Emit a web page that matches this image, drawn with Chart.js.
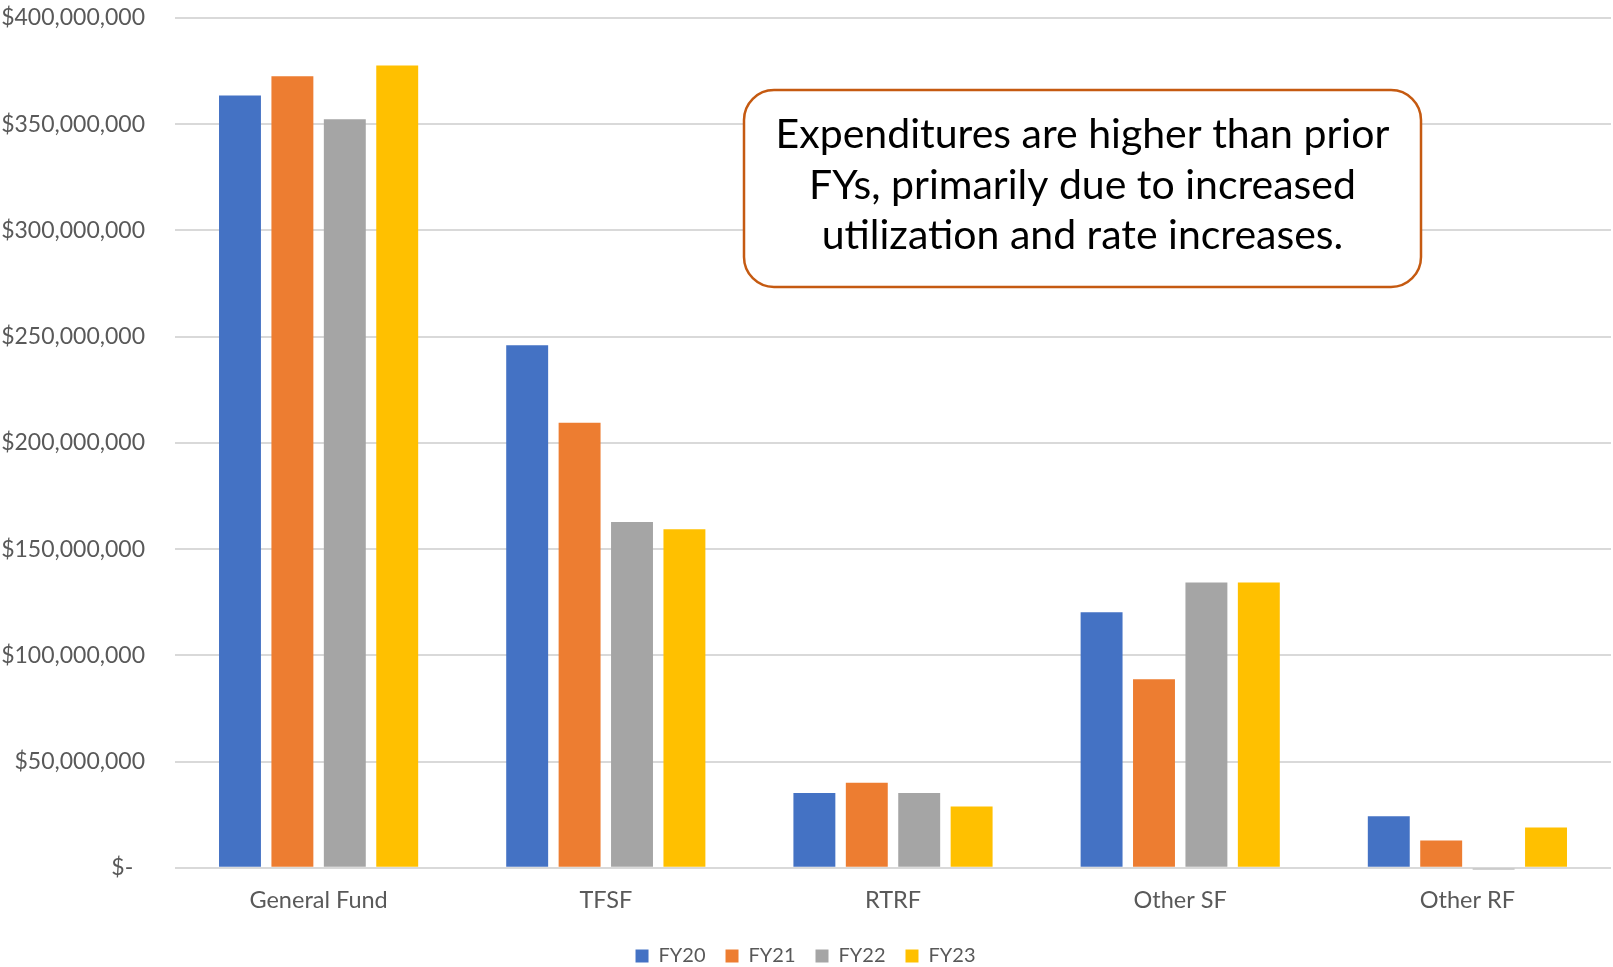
<!DOCTYPE html>
<html>
<head>
<meta charset="utf-8">
<title>Expenditures by Fund Source</title>
<script src="https://cdn.jsdelivr.net/npm/chart.js@4.4.1/dist/chart.umd.min.js"></script>
<style>
  html, body { margin: 0; padding: 0; background: #ffffff; }
  #wrap { width: 1613px; height: 967px; position: relative; }
</style>
</head>
<body>
<div id="wrap"><canvas id="chart" width="1613" height="967"></canvas></div>
<script>
// Fund sources along the x axis
const categories = ['General Fund', 'TFSF', 'RTRF', 'Other SF', 'Other RF'];

// Expenditures per fiscal year, in dollars
const fy20 = [363500000, 246000000, 35200000, 120300000, 24300000];
const fy21 = [372600000, 209500000, 40000000, 88800000, 12800000];
const fy22 = [352400000, 162800000, 35200000, 134300000, -800000];
const fy23 = [377700000, 159400000, 28900000, 134300000, 19000000];

const seriesNames = ['FY20', 'FY21', 'FY22', 'FY23'];
const seriesColors = ['#4472C4', '#ED7D31', '#A5A5A5', '#FFC000'];

// Value axis ticks, bottom to top
const yTickLabels = ['$-  ', '$50,000,000', '$100,000,000', '$150,000,000', '$200,000,000',
                     '$250,000,000', '$300,000,000', '$350,000,000', '$400,000,000'];

const noteLines = ['Expenditures are higher than prior',
                   'FYs, primarily due to increased',
                   'utilization and rate increases.'];

const FONT = 'Lato, "Open Sans", "Liberation Sans", sans-serif';

// Rounded callout box drawn over the plot
const calloutPlugin = {
  id: 'callout',
  afterDatasetsDraw(chart) {
    const ctx = chart.ctx;
    const x = 744, y = 90, w = 677, h = 197, r = 30;
    ctx.save();
    ctx.beginPath();
    ctx.roundRect(x, y, w, h, r);
    ctx.fillStyle = '#ffffff';
    ctx.fill();
    ctx.lineWidth = 2.5;
    ctx.strokeStyle = '#C55A11';
    ctx.stroke();
    ctx.fillStyle = '#000000';
    ctx.font = '41px ' + FONT;
    ctx.textAlign = 'center';
    ctx.textBaseline = 'middle';
    const cx = x + w / 2;
    const lineY = [135, 186, 236];
    noteLines.forEach((t, i) => ctx.fillText(t, cx, lineY[i]));
    ctx.restore();
  }
};

const datasets = [fy20, fy21, fy22, fy23].map((vals, i) => ({
  label: seriesNames[i],
  data: vals,
  backgroundColor: seriesColors[i],
  borderWidth: 0,
  barPercentage: 0.8,
  categoryPercentage: 0.73,
  clip: false
}));

new Chart(document.getElementById('chart'), {
  type: 'bar',
  data: { labels: categories, datasets },
  plugins: [calloutPlugin],
  options: {
    responsive: false,
    animation: false,
    devicePixelRatio: 1,
    layout: { padding: { top: 18, right: 2, bottom: -9, left: 0 } },
    plugins: {
      legend: {
        position: 'bottom',
        labels: {
          boxWidth: 13,
          boxHeight: 13,
          padding: 20,
          color: '#595959',
          font: { family: FONT, size: 20 }
        }
      },
      tooltip: { enabled: false }
    },
    scales: {
      x: {
        grid: { display: false },
        border: { display: false },
        ticks: {
          color: '#595959',
          font: { family: FONT, size: 23.5 },
          padding: 11,
          maxRotation: 0
        }
      },
      y: {
        min: 0,
        max: 400000000,
        afterFit(scale) {
          scale.width = 175;
          scale.paddingTop = 0;
          scale.paddingBottom = 0;
        },
        grid: { color: '#D9D9D9', lineWidth: 2, drawTicks: false },
        border: { display: false },
        ticks: {
          stepSize: 50000000,
          color: '#595959',
          font: { family: FONT, size: 23 },
          padding: 30,
          callback: (v, i) => yTickLabels[i]
        }
      }
    }
  }
});
</script>
</body>
</html>
